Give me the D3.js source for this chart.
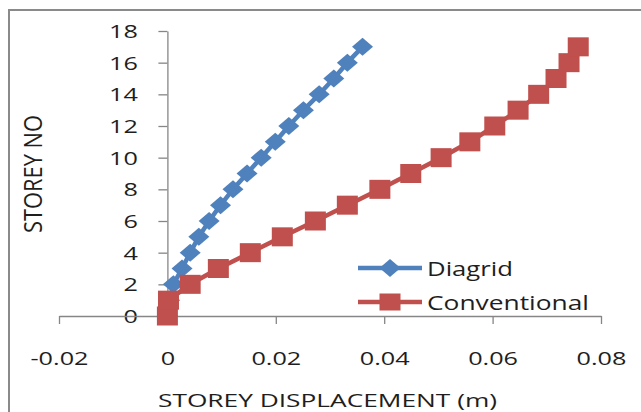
<!DOCTYPE html>
<html>
<head>
<meta charset="utf-8">
<script src="https://cdn.jsdelivr.net/npm/d3@7"></script>
<style>
  html, body { margin: 0; padding: 0; background: #fff; }
  svg { display: block; }
  text { font-family: "Open Sans", Lato, sans-serif; fill: #1e1e1e; }
</style>
</head>
<body>
<svg id="chart" width="641" height="412"></svg>
<script>
// ---- data ----
const storeys = [0, 1, 2, 3, 4, 5, 6, 7, 8, 9, 10, 11, 12, 13, 14, 15, 16, 17];
const diagrid = [0, 0.0004, 0.0011, 0.0027, 0.0042, 0.0058, 0.0077, 0.0098, 0.0121, 0.0147,
                 0.0173, 0.0199, 0.0224, 0.0251, 0.0280, 0.0307, 0.0332, 0.0360];
const conventional = [0, 0.0002, 0.0042, 0.0094, 0.0153, 0.0212, 0.0273, 0.0332, 0.0392, 0.0449,
                      0.0505, 0.0558, 0.0604, 0.0647, 0.0685, 0.0717, 0.0741, 0.0758];
const xTicks = [-0.02, 0, 0.02, 0.04, 0.06, 0.08];
const xTickLabels = ["-0.02", "0", "0.02", "0.04", "0.06", "0.08"];
const yTicks = [0, 2, 4, 6, 8, 10, 12, 14, 16, 18];
const seriesNames = ["Diagrid", "Conventional"];
const seriesColors = ["#4F81BD", "#C0504D"];
const xTitle = "STOREY DISPLACEMENT (m)";
const yTitle = "STOREY NO";

const svg = d3.select("#chart");
const x = d3.scaleLinear().domain([-0.02, 0.08]).range([59, 601]);
const y = d3.scaleLinear().domain([0, 18]).range([316, 31]);

function fitTo(sel, width) {
  sel.attr("textLength", width).attr("lengthAdjust", "spacingAndGlyphs");
}
function stretch(sel, k) {
  sel.each(function () {
    const w = this.getComputedTextLength();
    d3.select(this).attr("textLength", w * k).attr("lengthAdjust", "spacingAndGlyphs");
  });
}

// outer border (left + top)
svg.append("path")
  .attr("d", "M9,412 L9,10 L641,10")
  .attr("fill", "none").attr("stroke", "#8a8a8a").attr("stroke-width", 2);

// axes
const axisColor = "#868686";
const yAxis = svg.append("g").attr("transform", `translate(${x(0)},0)`)
  .call(d3.axisLeft(y).tickValues(yTicks).tickSize(9).tickSizeOuter(0).tickPadding(20.5).tickFormat(d3.format("d")));
const xAxis = svg.append("g").attr("transform", `translate(0,${y(0)})`)
  .call(d3.axisBottom(x).tickValues(xTicks).tickSize(8).tickSizeOuter(0)
    .tickFormat((d, i) => xTickLabels[i]));

[xAxis, yAxis].forEach(a => {
  a.selectAll("path.domain").attr("stroke", axisColor).attr("stroke-width", 1.3);
  a.selectAll(".tick line").attr("stroke", axisColor).attr("stroke-width", 1.3);
  a.selectAll("text").attr("font-size", 18).attr("fill", "#1e1e1e")
    .style("font-family", "'Open Sans', Lato, sans-serif");
});
yAxis.selectAll(".tick text").attr("dy", "0.36em");
xAxis.selectAll(".tick text").attr("y", 49).attr("dy", 0);
stretch(yAxis.selectAll(".tick text"), 1.4);
stretch(xAxis.selectAll(".tick text"), 1.4);

// series
const series = [diagrid, conventional];
const line = d3.line().x(d => x(d[0])).y(d => y(d[1]));
series.forEach((vals, si) => {
  const pts = vals.map((v, i) => [v, storeys[i]]);
  const g = svg.append("g");
  g.append("path").datum(pts).attr("d", line)
    .attr("fill", "none").attr("stroke", seriesColors[si]).attr("stroke-width", 4.5)
    .attr("stroke-linejoin", "round");
  if (si === 0) {
    g.selectAll("path.m").data(pts).join("path").attr("class", "m")
      .attr("d", d => { const cx = x(d[0]), cy = y(d[1]);
        return `M${cx},${cy - 9} L${cx + 10.5},${cy} L${cx},${cy + 9} L${cx - 10.5},${cy} Z`; })
      .attr("fill", seriesColors[si]);
  } else {
    g.selectAll("rect.m").data(pts).join("rect").attr("class", "m")
      .attr("x", d => x(d[0]) - 10.5).attr("y", d => y(d[1]) - 9.5)
      .attr("width", 21).attr("height", 19)
      .attr("fill", seriesColors[si]);
  }
});

// legend
const legendY = [268, 302];
seriesNames.forEach((name, si) => {
  const g = svg.append("g");
  const ly = legendY[si];
  g.append("line").attr("x1", 358).attr("x2", 422).attr("y1", ly).attr("y2", ly)
    .attr("stroke", seriesColors[si]).attr("stroke-width", 4.5);
  if (si === 0) {
    g.append("path").attr("d", `M390,${ly - 9} L400.5,${ly} L390,${ly + 9} L379.5,${ly} Z`)
      .attr("fill", seriesColors[si]);
  } else {
    g.append("rect").attr("x", 379.5).attr("y", ly - 8.5).attr("width", 21).attr("height", 17)
      .attr("fill", seriesColors[si]);
  }
  const t = g.append("text").attr("x", 427).attr("y", ly + 7.5)
    .attr("font-size", 20.5).text(name);
  fitTo(t, si === 0 ? 86 : 162);
});

// axis titles
const xt = svg.append("text").attr("x", 327.5).attr("y", 406.5).attr("text-anchor", "middle")
  .attr("font-size", 18.5).text(xTitle);
fitTo(xt, 339);

const yg = svg.append("g").attr("transform", "translate(33,174) scale(1.45,1) rotate(-90)");
const yt = yg.append("text").attr("x", 0).attr("y", 6.5).attr("text-anchor", "middle")
  .attr("font-size", 18).text(yTitle);
fitTo(yt, 118);
</script>
</body>
</html>
